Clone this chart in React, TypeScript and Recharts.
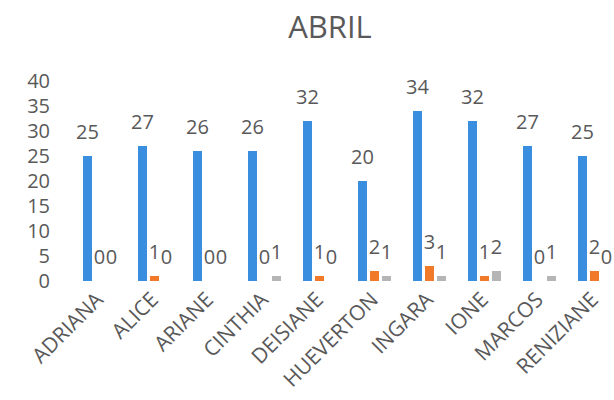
import { BarChart, Bar, XAxis, YAxis, Rectangle } from 'recharts';

const categories = [
  'ADRIANA',
  'ALICE',
  'ARIANE',
  'CINTHIA',
  'DEISIANE',
  'HUEVERTON',
  'INGARA',
  'IONE',
  'MARCOS',
  'RENIZIANE',
];
const blueValues = [25, 27, 26, 26, 32, 20, 34, 32, 27, 25];
const orangeValues = [0, 1, 0, 0, 1, 2, 3, 1, 0, 2];
const grayValues = [0, 0, 0, 1, 0, 1, 1, 2, 1, 0];
const yTicks = [0, 5, 10, 15, 20, 25, 30, 35, 40];

const FONT = '"Open Sans", sans-serif';
const TEXT = '#595959';

const data = categories.map((name, i) => ({
  name,
  a: blueValues[i],
  b: orangeValues[i],
  c: grayValues[i],
}));

function CategoryTick({ x, y, payload }: any) {
  return (
    <g transform={`translate(${x + 5},${y + 18})`}>
      <text
        x={0}
        y={0}
        textAnchor="end"
        transform="rotate(-45)"
        fill={TEXT}
        fontSize={21}
        fontFamily={FONT}
      >
        {payload.value}
      </text>
    </g>
  );
}

// bar plus its value above it; zero bars still get their label
function LabeledBar(props: any) {
  const { x, y, width, height, fill, value } = props;
  const v = Array.isArray(value) ? value[1] - value[0] : value;
  return (
    <g>
      {height > 0 && (
        <Rectangle x={x} y={y} width={width} height={height} fill={fill} />
      )}
      <text
        x={x + width / 2}
        y={y - 17}
        textAnchor="middle"
        fill={TEXT}
        fontSize={20}
        fontFamily={FONT}
      >
        {String(v)}
      </text>
    </g>
  );
}

export default function App() {
  return (
    <div
      style={{
        position: 'absolute',
        left: 0,
        top: 0,
        width: 614,
        height: 400,
        overflow: 'hidden',
        background: '#fff',
      }}
    >
      <div
        style={{
          position: 'absolute',
          left: 0,
          top: 6,
          width: 660,
          textAlign: 'center',
          fontFamily: FONT,
          fontSize: 31,
          lineHeight: '40px',
          color: TEXT,
        }}
      >
        ABRIL
      </div>
      <BarChart
        width={622}
        height={400}
        data={data}
        margin={{ top: 81, right: 0, left: 0, bottom: 0 }}
        barCategoryGap="20%"
        barGap={3}
      >
        <XAxis
          dataKey="name"
          axisLine={false}
          tickLine={false}
          tickSize={0}
          interval={0}
          height={119}
          tick={<CategoryTick />}
        />
        <YAxis
          domain={[0, 40]}
          ticks={yTicks}
          interval={0}
          axisLine={false}
          tickLine={false}
          tickSize={0}
          tickMargin={22}
          width={72}
          tick={{ fill: TEXT, fontSize: 20, fontFamily: FONT }}
        />
        <Bar dataKey="a" fill="#3A8EE0" shape={LabeledBar} isAnimationActive={false} />
        <Bar dataKey="b" fill="#F07A2A" shape={LabeledBar} isAnimationActive={false} />
        <Bar dataKey="c" fill="#B5B5B5" shape={LabeledBar} isAnimationActive={false} />
      </BarChart>
    </div>
  );
}
